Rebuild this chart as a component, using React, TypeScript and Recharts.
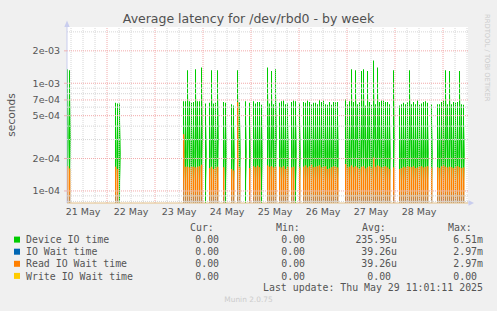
import React from 'react';
import { ComposedChart, Bar, XAxis, YAxis, ReferenceLine, ReferenceArea, Rectangle } from 'recharts';

// ---- time axis (hours since 21 May 00:00) ----
const START_HOUR = 4; // first 1-hour slot begins 21 May 04:00
const END_HOUR = 204.5; // 29 May ~11:00
const dayLabels = ['21 May', '22 May', '23 May', '24 May', '25 May', '26 May', '27 May', '28 May'];
const dayNoonHours = [12, 36, 60, 84, 108, 132, 156, 180];
const midnightHours = [24, 48, 72, 96, 120, 144, 168, 192];
const sixHourHours = [6, 12, 18, 30, 36, 42, 54, 60, 66, 78, 84, 90, 102, 108, 114, 126, 132, 138, 150, 156, 162, 174, 180, 186, 198, 204];

// ---- y axis (seconds, log) ----
const Y_MIN = 7.73e-5;
const Y_MAX = 3.33e-3;
const majorYTicks = [1e-4, 2e-4, 5e-4, 7e-4, 1e-3, 2e-3];
const minorYTicks = [8e-5, 9e-5, 3e-4, 4e-4, 6e-4, 8e-4, 9e-4, 3e-3];

// ---- latency spikes: slot index (hours after START_HOUR), values in microseconds ----
const spikeSlot = [
  0, 1,
  24, 25, 26,
  58, 59, 60, 61, 62, 63, 64, 65, 66, 67,
  69,
  71, 72, 73, 74, 75,
  78, 79,
  82, 83,
  85, 86,
  89,
  91,
  93, 94, 95, 96, 97,
  100, 101, 102, 103, 104,
  106, 107, 108, 109, 110,
  112, 113, 114,
  116,
  118, 119, 120, 121, 122, 123, 124, 125, 126, 127, 128, 129, 130, 131, 132, 133, 134, 135,
  139, 140, 141, 142, 143, 144, 145, 146, 147, 148, 149, 150, 151, 152, 153, 154, 155, 156, 157, 158, 159, 160, 161,
  163,
  166, 167, 168, 169, 170, 171, 172, 173, 174, 175, 176, 177, 178, 179, 180,
  182,
  185, 186, 187, 188, 189, 190, 191, 192, 193, 194, 195, 196, 197, 198,
];
const deviceIOUs = [
  1350, 1320,
  660, 650, 650,
  680, 680, 1320, 680, 660, 670, 1350, 680, 680, 1400,
  650,
  660, 1320, 650, 660, 1320,
  670, 660,
  640, 620,
  1320, 670,
  680,
  660,
  680, 650, 670, 670, 630,
  1400, 650, 1300, 640, 1350,
  660, 680, 690, 640, 650,
  670, 690, 680,
  650,
  670, 660, 690, 670, 640, 660, 660, 640, 700, 670, 690, 640, 630, 670, 630, 670, 670, 670,
  710, 640, 680, 1350, 670, 1320, 640, 670, 1300, 1350, 620, 1300, 670, 630, 1630, 640, 1400, 670, 690, 690, 670, 670, 640,
  1320,
  620, 640, 660, 640, 670, 1320, 640, 670, 640, 690, 630, 650, 670, 680, 660,
  640,
  640, 640, 670, 690, 1320, 640, 1300, 640, 670, 660, 670, 1300, 640, 630,
];
const readIOWaitUs = [
  170, 162,
  168, 160, 0,
  337, 168, 168, 165, 168, 168, 165, 168, 170, 175,
  0,
  163, 168, 160, 165, 168,
  166, 0,
  160, 155,
  670, 166,
  0,
  163,
  170, 166, 171, 166, 0,
  172, 168, 170, 165, 168,
  168, 165, 170, 160, 168,
  165, 168, 0,
  165,
  168, 172, 165, 170, 175, 166, 168, 170, 173, 165, 168, 170, 160, 162, 166, 170, 168, 165,
  178, 165, 168, 172, 166, 170, 165, 160, 168, 170, 162, 166, 170, 165, 205, 168, 172, 170, 165, 168, 170, 165, 160,
  165,
  160, 163, 168, 165, 170, 168, 166, 170, 163, 165, 168, 170, 165, 168, 170,
  165,
  166, 163, 170, 172, 168, 165, 168, 166, 163, 168, 170, 166, 163, 165,
];

// ---- legend ----
const seriesNames = ['Device IO time', 'IO Wait time', 'Read IO Wait time', 'Write IO Wait time'];
const seriesColors = ['#00cc00', '#0066b3', '#ff8000', '#ffcc00'];
const curValues = ['0.00', '0.00', '0.00', '0.00'];
const minValues = ['0.00', '0.00', '0.00', '0.00'];
const avgValues = ['235.95u', '39.26u', '39.26u', '0.00'];
const maxValues = ['6.51m', '2.97m', '2.97m', '0.00'];
const legendHeaders = ['Cur:', 'Min:', 'Avg:', 'Max:'];
const lastUpdate = 'Last update: Thu May 29 11:01:11 2025';

const rows = spikeSlot.map((s, i) => ({
  x: START_HOUR + s + 0.5,
  device: deviceIOUs[i] * 1e-6,
  read: readIOWaitUs[i] > 0 ? readIOWaitUs[i] * 1e-6 : null,
}));

const fmtExp = (v: number) => {
  const e = Math.floor(Math.log10(v) + 1e-9);
  const m = Math.round(v / Math.pow(10, e));
  return `${m}e${e < 0 ? '-' : '+'}${String(Math.abs(e)).padStart(2, '0')}`;
};

const dayLabel = (h: number) => {
  const i = dayNoonHours.indexOf(h);
  return i >= 0 ? dayLabels[i] : '';
};

const readShape = (p: any) =>
  p && p.payload && p.payload.read ? <Rectangle {...p} /> : <g />;

const SANS = 'DejaVu Sans, Verdana, sans-serif';
const MONO = 'DejaVu Sans Mono, monospace';
const TXT = '#555555';
const GRID_MINOR = '#d6d6d6';
const GRID_MAJOR = '#f2aaaa';

export default function App() {
  const charW = 5.96;
  const colRight = [225, 311, 397, 483];
  const colHead = [190, 276, 362, 448];
  const rowBase = [243.2, 255.3, 267.4, 279.5];
  const cols = [curValues, minValues, avgValues, maxValues];
  return (
    <div style={{ position: 'absolute', left: 0, top: 0, width: 497, height: 311, background: '#f0f0f0', overflow: 'hidden' }}>
      <ComposedChart width={497} height={311} data={rows} margin={{ top: 27, right: 29, bottom: 88, left: 7 }}>
        <defs>
          <linearGradient id="gHalo" x1="0" y1="0" x2="0" y2="1">
            <stop offset="0%" stopColor="#00cc00" stopOpacity={0} />
            <stop offset="18%" stopColor="#00cc00" stopOpacity={0.05} />
            <stop offset="35%" stopColor="#00cc00" stopOpacity={0.55} />
            <stop offset="50%" stopColor="#00cc00" stopOpacity={0.9} />
            <stop offset="65%" stopColor="#00cc00" stopOpacity={0.55} />
            <stop offset="78%" stopColor="#00cc00" stopOpacity={0.12} />
            <stop offset="100%" stopColor="#00cc00" stopOpacity={0} />
          </linearGradient>
          <linearGradient id="oHalo" x1="0" y1="0" x2="0" y2="1">
            <stop offset="0%" stopColor="#ff8000" stopOpacity={0.45} />
            <stop offset="55%" stopColor="#ff8000" stopOpacity={0.6} />
            <stop offset="100%" stopColor="#a88a6c" stopOpacity={0.45} />
          </linearGradient>
          <linearGradient id="oBar" x1="0" y1="0" x2="0" y2="1">
            <stop offset="0%" stopColor="#ff8000" />
            <stop offset="65%" stopColor="#ff8000" />
            <stop offset="100%" stopColor="#b08a60" />
          </linearGradient>
        </defs>
        <XAxis
          xAxisId="t"
          dataKey="x"
          type="number"
          domain={[START_HOUR, END_HOUR]}
          allowDataOverflow
          ticks={dayNoonHours}
          interval={0}
          tickFormatter={dayLabel}
          tickLine={false}
          tickSize={0}
          tickMargin={5.5}
          axisLine={{ stroke: '#e4c088' }}
          tick={{ fill: TXT, fontSize: 9.5, fontFamily: SANS }}
          height={20}
        />
        <XAxis xAxisId="gh" dataKey="x" type="number" domain={[START_HOUR, END_HOUR]} allowDataOverflow hide height={0} />
        <XAxis xAxisId="oh" dataKey="x" type="number" domain={[START_HOUR, END_HOUR]} allowDataOverflow hide height={0} />
        <XAxis xAxisId="o" dataKey="x" type="number" domain={[START_HOUR, END_HOUR]} allowDataOverflow hide height={0} />
        <YAxis
          yAxisId="v"
          type="number"
          scale="log"
          domain={[Y_MIN, Y_MAX]}
          allowDataOverflow
          ticks={majorYTicks}
          interval={0}
          tickFormatter={fmtExp}
          width={60}
          tickSize={3}
          tickMargin={4}
          tickLine={{ stroke: '#eeb0b0' }}
          axisLine={{ stroke: '#c9cdee' }}
          tick={{ fill: TXT, fontSize: 9.5, fontFamily: SANS }}
        />
        <ReferenceArea xAxisId="t" yAxisId="v" x1={START_HOUR} x2={END_HOUR} y1={Y_MIN} y2={Y_MAX} fill="#ffffff" fillOpacity={1} stroke="none" />
        {minorYTicks.map((v) => (
          <ReferenceLine key={`hy${v}`} xAxisId="t" yAxisId="v" y={v} stroke={GRID_MINOR} strokeDasharray="1 1" />
        ))}
        {sixHourHours.map((h) => (
          <ReferenceLine key={`vx${h}`} xAxisId="t" yAxisId="v" x={h} stroke={GRID_MINOR} strokeDasharray="1 1" />
        ))}
        {majorYTicks.map((v) => (
          <ReferenceLine key={`My${v}`} xAxisId="t" yAxisId="v" y={v} stroke={GRID_MAJOR} strokeDasharray="1 1" />
        ))}
        {midnightHours.map((h) => (
          <ReferenceLine key={`Mx${h}`} xAxisId="t" yAxisId="v" x={h} stroke={GRID_MAJOR} strokeDasharray="1 1" />
        ))}
        <Bar xAxisId="gh" yAxisId="v" dataKey="device" barSize={2} fill="url(#gHalo)" isAnimationActive={false} />
        <Bar xAxisId="t" yAxisId="v" dataKey="device" barSize={1} fill="#00cc00" isAnimationActive={false} />
        <Bar xAxisId="oh" yAxisId="v" dataKey="read" barSize={2} fill="url(#oHalo)" shape={readShape} isAnimationActive={false} />
        <Bar xAxisId="o" yAxisId="v" dataKey="read" barSize={1} fill="url(#oBar)" shape={readShape} isAnimationActive={false} />
      </ComposedChart>
      <svg width={497} height={311} style={{ position: 'absolute', left: 0, top: 0, pointerEvents: 'none' }}>
        <text x={248.5} y={23} textAnchor="middle" fontFamily={SANS} fontSize={12.5} fill="#505050">
          Average latency for /dev/rbd0 - by week
        </text>
        <text transform="translate(14.5,115) rotate(-90)" textAnchor="middle" fontFamily={SANS} fontSize={10.6} fill={TXT}>
          seconds
        </text>
        <text transform="translate(485,14) rotate(90)" fontFamily={SANS} fontSize={6.8} fill="#cccccc">
          RRDTOOL / TOBI OETIKER
        </text>
        <text x={248.5} y={302.3} textAnchor="middle" fontFamily={SANS} fontSize={7.4} fill="#cccccc">
          Munin 2.0.75
        </text>
        <line x1={67} y1={27} x2={67} y2={23} stroke="#c9cdee" />
        <polygon points="64.3,27 69.7,27 67,20.5" fill="#c9cdee" />
        <line x1={468} y1={203} x2={470} y2={203} stroke="#c9cdee" />
        <polygon points="468.5,200.3 468.5,205.7 474,203" fill="#c9cdee" />
        {legendHeaders.map((h, i) => (
          <text key={h} x={colHead[i]} y={231.3} fontFamily={MONO} fontSize={9.9} fill={TXT}>{h}</text>
        ))}
        {seriesNames.map((name, r) => (
          <g key={name}>
            <rect x={14} y={rowBase[r] - 6.6} width={6} height={6} fill={seriesColors[r]} />
            <text x={26} y={rowBase[r]} fontFamily={MONO} fontSize={9.9} fill={TXT} style={{ whiteSpace: 'pre' }}>{name}</text>
            {cols.map((col, c) => {
              const v = col[r];
              const hasUnit = /[a-z]$/i.test(v);
              return (
                <text key={c} x={colRight[c] - (hasUnit ? 0 : charW)} y={rowBase[r]} textAnchor="end" fontFamily={MONO} fontSize={9.9} fill={TXT}>
                  {v}
                </text>
              );
            })}
          </g>
        ))}
        <text x={483} y={290.8} textAnchor="end" fontFamily={MONO} fontSize={9.9} fill={TXT} style={{ whiteSpace: 'pre' }}>
          {lastUpdate}
        </text>
      </svg>
    </div>
  );
}
